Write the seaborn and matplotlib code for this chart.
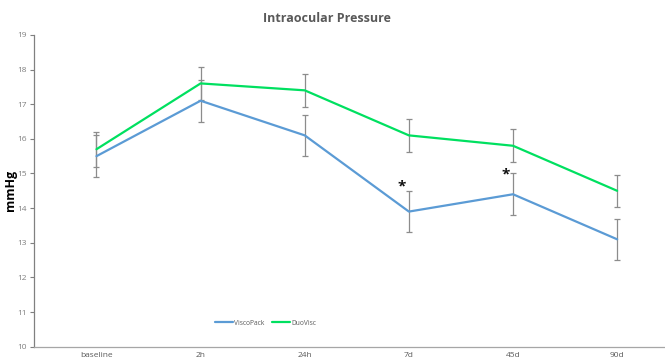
import matplotlib
matplotlib.use("Agg")
import matplotlib.pyplot as plt
import seaborn as sns
import pandas as pd
import numpy as np

categories = ["baseline", "2h", "24h", "7d", "45d", "90d"]
visco_mean = [15.5, 17.1, 16.1, 13.9, 14.4, 13.1]
visco_err = [0.6, 0.6, 0.6, 0.6, 0.6, 0.6]
duo_mean = [15.7, 17.6, 17.4, 16.1, 15.8, 14.5]
duo_err = [0.5, 0.47, 0.47, 0.47, 0.47, 0.47]
star_cats = ["7d", "45d"]
star_vals = [14.62, 14.98]
series_names = ["ViscoPack", "DuoVisc"]
y_ticks = list(range(10, 20))

sns.set_theme(style="white")
plt.rcParams['font.family'] = ['Open Sans', 'DejaVu Sans']

df = pd.DataFrame({
    "time": categories * 2,
    "mmHg": visco_mean + duo_mean,
    "group": [series_names[0]] * len(categories) + [series_names[1]] * len(categories),
})
palette = {series_names[0]: "#5B9BD5", series_names[1]: "#00E060"}

fig = plt.figure(figsize=(6.65, 3.6), dpi=100)
ax = fig.add_axes([0.0511, 0.037, 0.949, 0.866])

sns.lineplot(data=df, x="time", y="mmHg", hue="group", palette=palette,
             linewidth=1.6, ax=ax, sort=False, errorbar=None)

xpos = np.arange(len(categories))
ax.errorbar(xpos, visco_mean, yerr=visco_err, fmt="none", ecolor="#8c8c8c",
            elinewidth=0.9, capsize=2, capthick=0.9, zorder=1)
ax.errorbar(xpos, duo_mean, yerr=duo_err, fmt="none", ecolor="#8c8c8c",
            elinewidth=0.9, capsize=2, capthick=0.9, zorder=1)

for c, v in zip(star_cats, star_vals):
    ax.text(categories.index(c) - 0.07, v, "*", ha="center", va="center",
            fontsize=11, fontweight="bold", color="#111111")

ax.set_xlim(-0.6, 5.46)
ax.set_ylim(10, 19)
ax.set_yticks(y_ticks)
ax.set_xticks(xpos)
ax.set_xticklabels(categories)
ax.tick_params(axis="y", labelsize=6, colors="#7f7f7f", length=3, direction="out", left=True, width=0.8, pad=2)
ax.tick_params(axis="x", labelsize=6, colors="#595959", length=0)
ax.set_xlabel("")
ax.set_ylabel("mmHg", fontsize=9, fontweight="bold", color="black")
ax.yaxis.set_label_coords(-0.027, 0.5)

for s in ["top", "right"]:
    ax.spines[s].set_visible(False)
ax.spines["left"].set_color("#808080")
ax.spines["bottom"].set_color("#a6a6a6")
ax.spines["left"].set_linewidth(0.9)
ax.spines["bottom"].set_linewidth(0.9)

ax.set_title("Intraocular Pressure", fontsize=9, fontweight="bold", color="#595959", pad=9, x=0.465)

leg = ax.legend(loc="center", bbox_to_anchor=(0.367, 0.075), ncol=2, frameon=False,
                fontsize=4.8, handlelength=2.6, columnspacing=1.2, handletextpad=0.2)
for t in leg.get_texts():
    t.set_color("#595959")

fig.savefig("out.png", dpi=100)
